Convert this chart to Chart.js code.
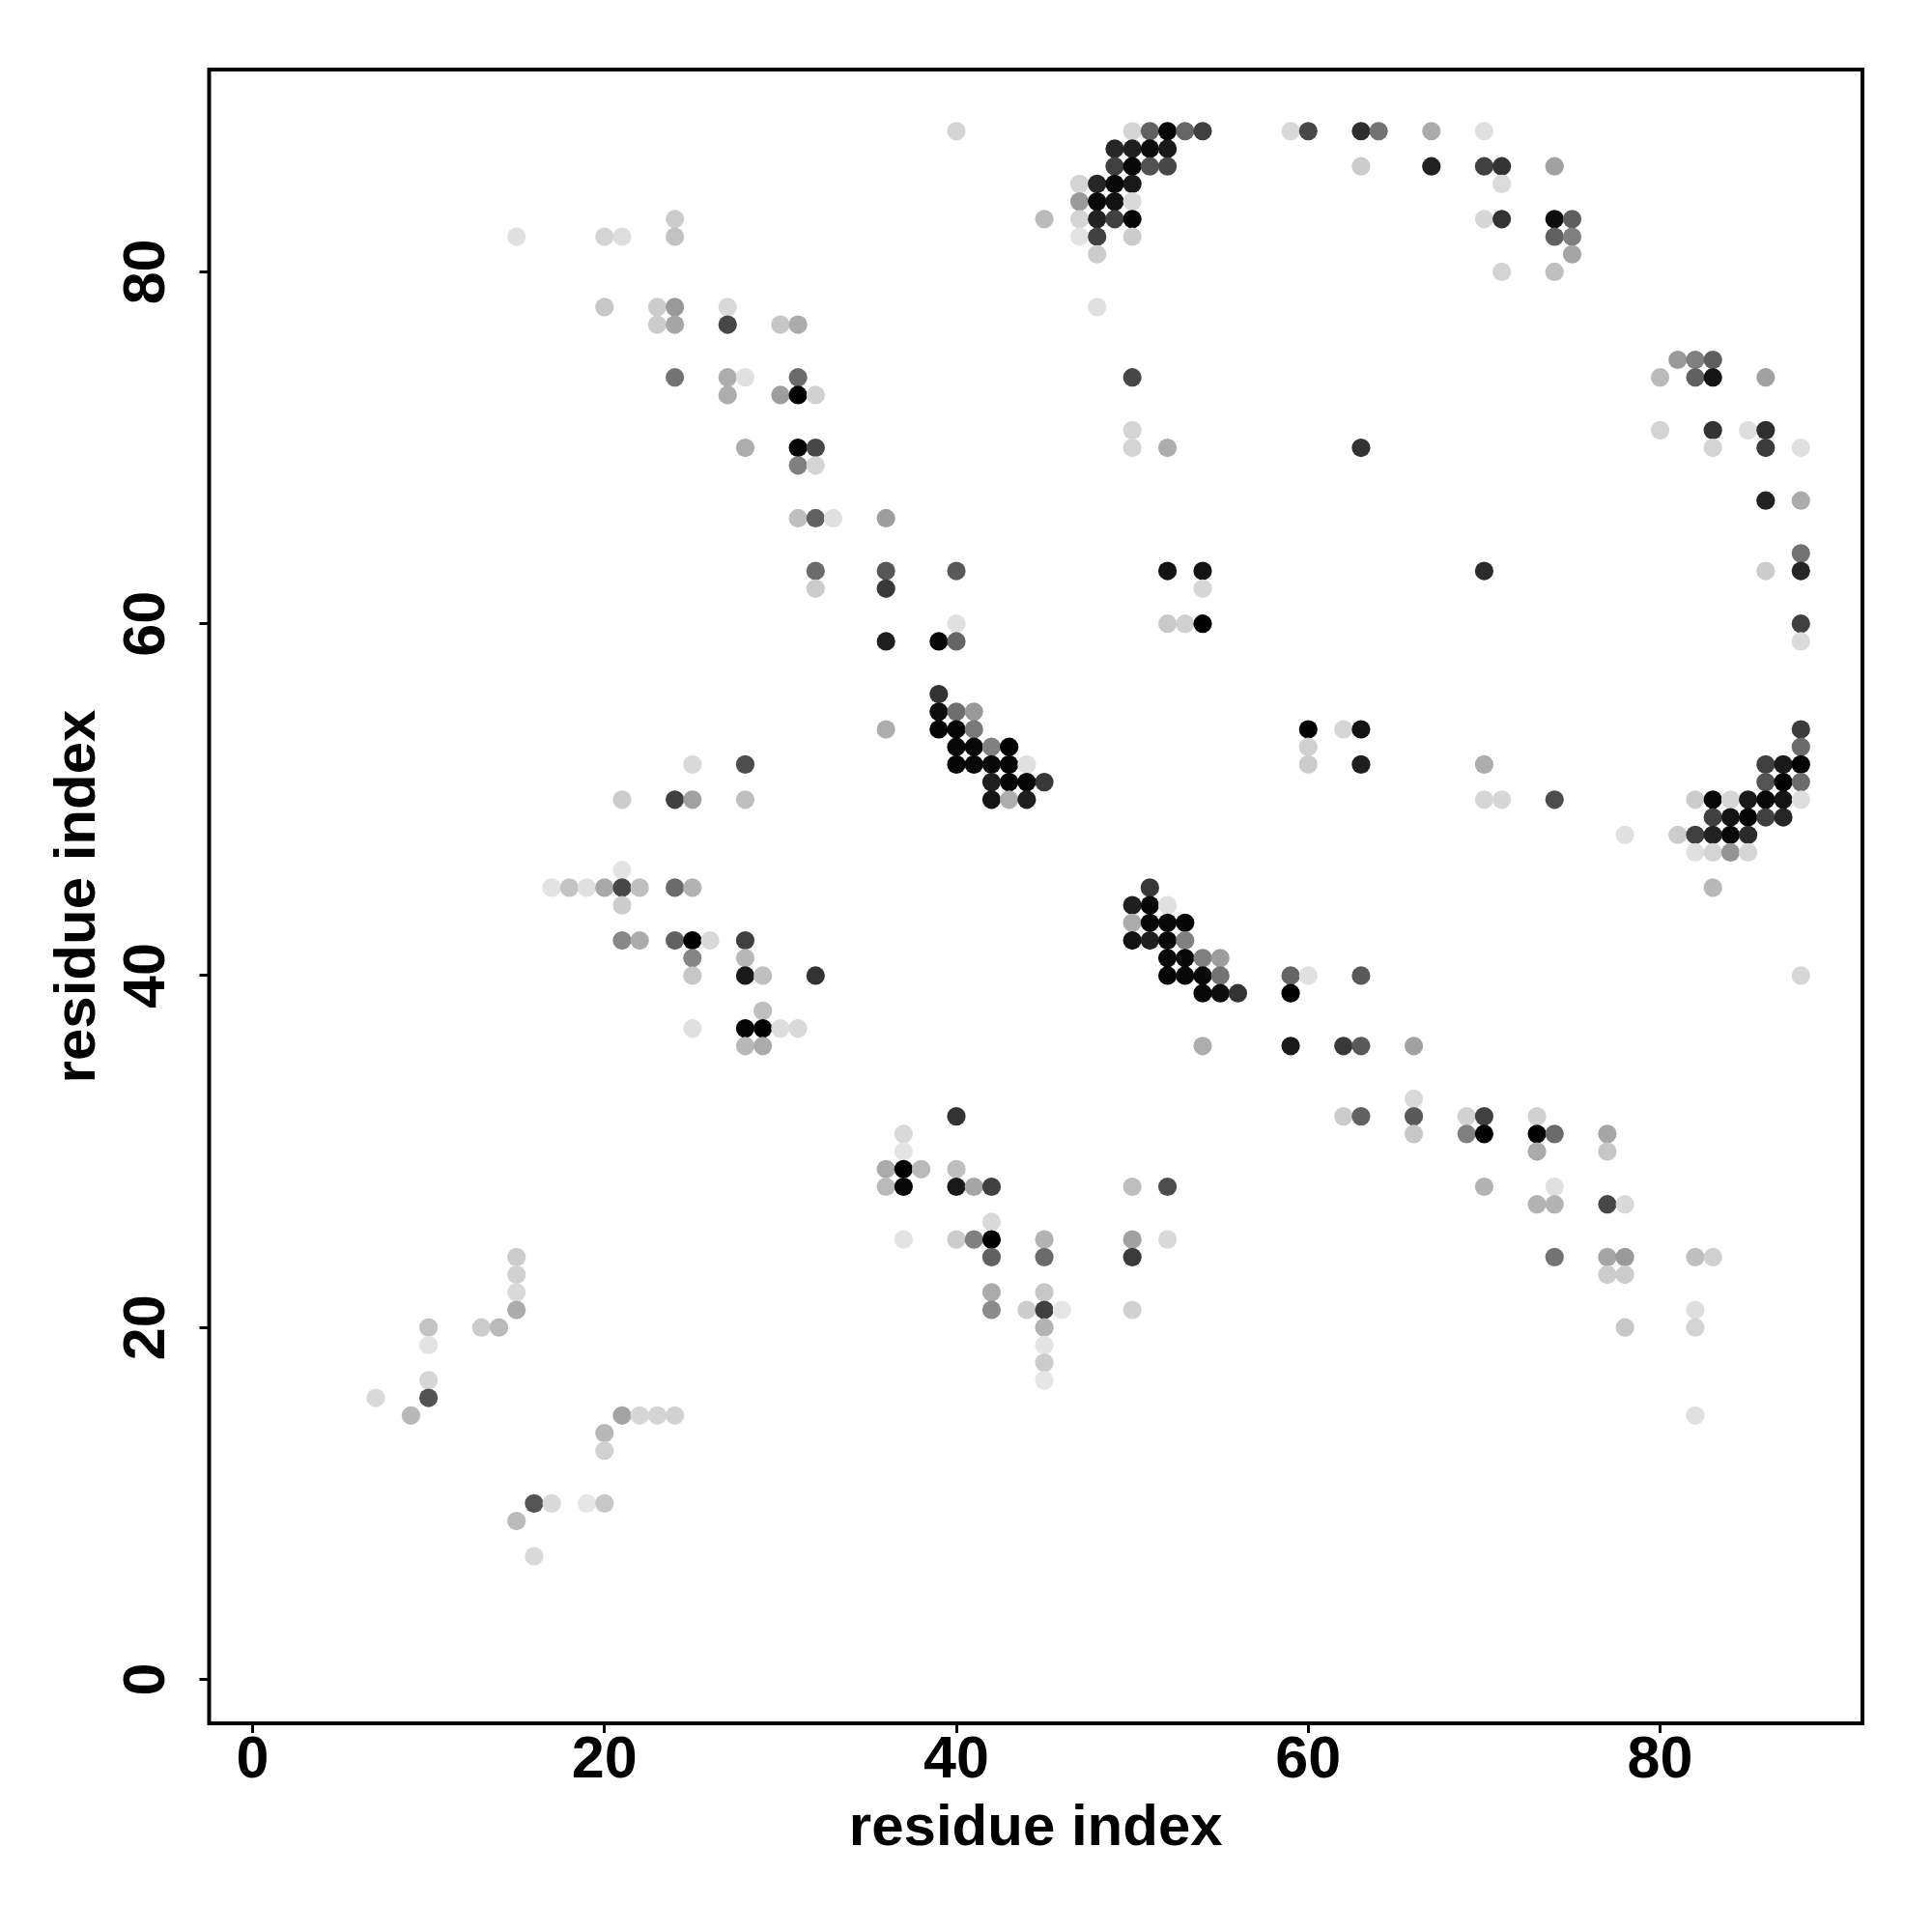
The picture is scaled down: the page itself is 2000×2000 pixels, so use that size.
<!DOCTYPE html>
<html>
<head>
<meta charset="utf-8">
<title>residue contacts</title>
<script src="https://cdn.jsdelivr.net/npm/chart.js@4"></script>
<style>
    html, body { margin: 0; padding: 0; background: #fff; }
    canvas { display: block; }
</style>
</head>
<body>
<canvas id="contactChart" width="2000" height="2000"></canvas>
<script>
const AXIS_TITLE = 'residue index';
const tickValues = [0, 20, 40, 60, 80];

// One entry per row of the map: row index, residues with a contact, darkness (0 white, 1 black)
const rowIndex = [88, 87, 86, 85, 84, 83, 82, 81, 80, 78, 77, 75, 74, 73, 71, 70, 69, 67, 66, 64, 63, 62, 60, 59, 56, 55, 54, 53, 52, 51, 50, 49, 48, 47, 46, 45, 44, 43, 42, 41, 40, 39, 38, 37, 36, 33, 32, 31, 30, 29, 28, 27, 26, 25, 24, 23, 22, 21, 20, 19, 18, 17, 16, 15, 14, 13, 10, 9, 7];

const rowResidues = [
    [40, 50, 51, 52, 53, 54, 59, 60, 63, 64, 67, 70],
    [49, 50, 51, 52],
    [49, 50, 51, 52, 63, 67, 70, 71, 74],
    [47, 48, 49, 50, 71],
    [47, 48, 49, 50],
    [24, 45, 47, 48, 49, 50, 70, 71, 74, 75],
    [15, 20, 21, 24, 47, 48, 50, 74, 75],
    [48, 75],
    [71, 74],
    [20, 23, 24, 27, 48],
    [23, 24, 27, 30, 31],
    [81, 82, 83],
    [24, 27, 28, 31, 50, 80, 82, 83, 86],
    [27, 30, 31, 32],
    [50, 80, 83, 85, 86],
    [28, 31, 32, 50, 52, 63, 83, 86, 88],
    [31, 32],
    [86, 88],
    [31, 32, 33, 36],
    [88],
    [32, 36, 40, 52, 54, 70, 86, 88],
    [32, 36, 54],
    [40, 52, 53, 54, 88],
    [36, 39, 40, 88],
    [39],
    [39, 40, 41],
    [36, 39, 40, 41, 60, 62, 63, 88],
    [40, 41, 42, 43, 60, 88],
    [25, 28, 40, 41, 42, 43, 44, 60, 63, 70, 86, 87, 88],
    [42, 43, 44, 45, 86, 87, 88],
    [21, 24, 25, 28, 42, 43, 44, 70, 71, 74, 82, 83, 84, 85, 86, 87, 88],
    [83, 84, 85, 86, 87],
    [78, 81, 82, 83, 84, 85],
    [82, 83, 84, 85],
    [21],
    [17, 18, 19, 20, 21, 22, 24, 25, 51, 83],
    [21, 50, 51, 52],
    [50, 51, 52, 53],
    [21, 22, 24, 25, 26, 28, 50, 51, 52, 53],
    [25, 28, 52, 53, 54, 55],
    [25, 28, 29, 32, 52, 53, 54, 55, 59, 60, 63, 88],
    [54, 55, 56, 59],
    [29],
    [25, 28, 29, 30, 31],
    [28, 29, 54, 59, 62, 63, 66],
    [66],
    [40, 62, 63, 66, 69, 70, 73],
    [37, 66, 69, 70, 73, 74, 77],
    [37, 73, 77],
    [36, 37, 38, 40],
    [36, 37, 40, 41, 42, 50, 52, 70, 74],
    [73, 74, 77, 78],
    [42],
    [37, 40, 41, 42, 45, 50, 52],
    [15, 42, 45, 50, 74, 77, 78, 82, 83],
    [15, 77, 78],
    [15, 42, 45],
    [15, 42, 44, 45, 46, 50, 82],
    [10, 13, 14, 45, 78, 82],
    [10, 45],
    [45],
    [10, 45],
    [7, 10],
    [9, 21, 22, 23, 24, 82],
    [20],
    [20],
    [16, 17, 19, 20],
    [15],
    [16]
];

const rowShades = [
    [.17, .17, .62, .98, .6, .75, .15, .72, .82, .55, .33, .12],
    [.85, .88, .95, .9],
    [.75, .97, .68, .72, .2, .87, .75, .8, .37],
    [.17, .85, .97, .9, .14],
    [.4, .97, .93, .15],
    [.2, .27, .17, .87, .75, .98, .16, .8, .95, .63],
    [.12, .17, .13, .24, .11, .75, .2, .62, .5],
    [.2, .35],
    [.17, .25],
    [.22, .2, .4, .15, .12],
    [.2, .35, .72, .22, .33],
    [.4, .5, .63],
    [.55, .32, .12, .58, .72, .27, .62, .92, .37],
    [.32, .38, 1, .18],
    [.17, .17, .8, .13, .82],
    [.32, .98, .72, .17, .32, .8, .17, .77, .12],
    [.5, .17],
    [.87, .33],
    [.25, .62, .12, .38],
    [.55],
    [.58, .66, .65, .92, .92, .83, .2, .85],
    [.2, .78, .16],
    [.12, .21, .18, 1, .75],
    [.88, .97, .6, .14],
    [.8],
    [.95, .57, .4],
    [.32, .98, .98, .52, 1, .16, .92, .76],
    [.97, .97, .5, 1, .18, .58],
    [.15, .7, .98, .97, .97, .98, .12, .2, .88, .32, .75, .9, 1],
    [.88, .98, .98, .78, .67, 1, .58],
    [.2, .75, .37, .25, .92, .32, .88, .16, .16, .7, .2, .97, .16, .9, .97, .92, .13],
    [.75, .92, .98, .75, .85],
    [.12, .2, .75, .87, .97, .83],
    [.12, .17, .42, .16],
    [.11],
    [.11, .23, .12, .34, .72, .25, .58, .3, .78, .28],
    [.2, .88, .98, .12],
    [.33, .98, .97, .98],
    [.47, .33, .62, 1, .15, .75, .93, .88, .97, .5],
    [.48, .28, .97, .97, .5, .38],
    [.22, .9, .25, .8, .98, .97, .97, .55, .6, .12, .65, .16],
    [.97, .95, .8, 1],
    [.25],
    [.12, .98, 1, .13, .15],
    [.28, .33, .32, .9, .78, .65, .37],
    [.15],
    [.8, .2, .62, .65, .18, .75, .18],
    [.15, .22, .5, 1, 1, .58, .35],
    [.11, .33, .22],
    [.33, 1, .27, .25],
    [.27, .97, .9, .35, .75, .25, .7, .3, .12],
    [.3, .3, .72, .15],
    [.15],
    [.11, .2, .5, 1, .3, .37, .15],
    [.2, .62, .58, .77, .55, .35, .4, .25, .18],
    [.18, .2, .2],
    [.15, .33, .22],
    [.33, .45, .2, .75, .1, .18, .13],
    [.23, .2, .27, .3, .22, .17],
    [.11, .11],
    [.2],
    [.16, .1],
    [.15, .68],
    [.28, .36, .16, .17, .18, .12],
    [.28],
    [.18],
    [.67, .15, .1, .22],
    [.27],
    [.15]
];

const LABEL_FONT = { family: "'Liberation Sans', Arial, sans-serif", weight: 'bold', size: 61, lineHeight: 1 };
const TITLE_FONT = { family: "'Liberation Sans', Arial, sans-serif", weight: 'bold', size: 60, lineHeight: 1 };

// Flatten the rows into points and turn darkness into a grey
function buildPoints() {
    const points = [];
    const colors = [];
    rowIndex.forEach((row, i) => {
        rowResidues[i].forEach((residue, j) => {
            const grey = Math.round(255 * (1 - rowShades[i][j]));
            points.push({ x: residue, y: row });
            colors.push(`rgb(${grey}, ${grey}, ${grey})`);
        });
    });
    return { points, colors };
}

// The box round the plot area
const plotFrame = {
    id: 'plotFrame',
    afterDraw(chart) {
        const { ctx, chartArea } = chart;
        ctx.save();
        ctx.strokeStyle = '#000';
        ctx.lineWidth = 4;
        ctx.strokeRect(chartArea.left, chartArea.top, chartArea.right - chartArea.left, chartArea.bottom - chartArea.top);
        ctx.restore();
    }
};

function useTickValues(scale) {
    scale.ticks = tickValues.map(value => ({ value }));
}

function initChart() {
    const ctx = document.getElementById('contactChart').getContext('2d');
    const { points, colors } = buildPoints();

    new Chart(ctx, {
        type: 'scatter',
        data: {
            datasets: [{
                data: points,
                pointBackgroundColor: colors,
                pointBorderWidth: 0,
                pointRadius: 9.6
            }]
        },
        plugins: [plotFrame],
        options: {
            responsive: false,
            animation: false,
            devicePixelRatio: 1,
            layout: { padding: { top: 72, right: 72, left: 0, bottom: 0 } },
            plugins: { legend: { display: false }, tooltip: { enabled: false } },
            scales: {
                x: {
                    type: 'linear',
                    min: -2.47,
                    max: 91.5,
                    afterBuildTicks: useTickValues,
                    afterFit: scale => { scale.height = 216; },
                    border: { display: false },
                    grid: { drawOnChartArea: false, tickLength: 10, tickWidth: 3, tickColor: '#000' },
                    ticks: { color: '#000', font: LABEL_FONT, padding: -1, maxRotation: 0, minRotation: 0 },
                    title: { display: true, text: AXIS_TITLE, color: '#000', font: TITLE_FONT, padding: { top: 0, bottom: 77 } }
                },
                y: {
                    type: 'linear',
                    min: -2.5,
                    max: 91.5,
                    afterBuildTicks: useTickValues,
                    afterFit: scale => { scale.width = 216.5; },
                    border: { display: false },
                    grid: { drawOnChartArea: false, tickLength: 10, tickWidth: 3, tickColor: '#000' },
                    ticks: { color: '#000', font: LABEL_FONT, padding: 19, minRotation: 90, maxRotation: 90, crossAlign: 'center' },
                    title: { display: true, text: AXIS_TITLE, color: '#000', font: TITLE_FONT, padding: { top: 51, bottom: 0 } }
                }
            }
        }
    });
}

document.addEventListener('DOMContentLoaded', initChart);
</script>
</body>
</html>
